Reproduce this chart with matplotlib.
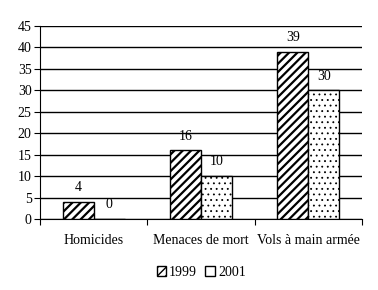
import matplotlib.pyplot as plt
from matplotlib.patches import Patch
import numpy as np

plt.rcParams['font.family'] = ['Liberation Serif', 'DejaVu Serif']

categories = ['Homicides', 'Menaces de mort', 'Vols à main armée']
years = ['1999', '2001']
v1999 = [4, 16, 39]
v2001 = [0, 10, 30]

fig = plt.figure(figsize=(3.78, 2.90), dpi=100)
ax = fig.add_axes([40/378, 1 - 219/290, 322/378, 193/290])

x = np.arange(len(categories))
w = 0.29
with plt.rc_context({'hatch.linewidth': 1.6}):
    b1 = ax.bar(x - w/2, v1999, w, color='white', edgecolor='black', hatch='////', linewidth=1, zorder=3)
    h1 = Patch(facecolor='white', edgecolor='black', hatch='////', linewidth=1)
with plt.rc_context({'hatch.linewidth': 0.6}):
    b2 = ax.bar(x + w/2, v2001, w, color='white', edgecolor='black', hatch='...', linewidth=1, zorder=3)
h2 = Patch(facecolor='white', edgecolor='black', linewidth=1)

for bars, vals in [(b1, v1999), (b2, v2001)]:
    for r, v in zip(bars, vals):
        ax.text(r.get_x() + r.get_width()/2, v + 3.3, str(v), ha='center', va='center', fontsize=10)

ax.set_xlim(-0.5, 2.5)
ax.set_ylim(0, 45)
ax.set_yticks(range(0, 46, 5))
ax.yaxis.grid(True, color='black', linewidth=1)
ax.set_axisbelow(True)
ax.set_xticks([-0.5, 0.5, 1.5, 2.5])
ax.set_xticklabels([])
ax.set_xticks(x, minor=True)
ax.set_xticklabels(categories, minor=True, fontsize=10)
ax.tick_params(axis='x', which='minor', length=0, pad=11)
ax.tick_params(axis='x', which='major', length=4, direction='out')
ax.tick_params(axis='y', length=4, labelsize=10, pad=2)
for s in ['top', 'right']:
    ax.spines[s].set_visible(False)

fig.legend(handles=[h1, h2], labels=years, loc='center', bbox_to_anchor=(0.532, 1 - 272/290),
           ncol=2, frameon=False, fontsize=10, handlelength=0.7, handleheight=0.7,
           handletextpad=0.2, columnspacing=0.6)

fig.savefig('out.png', dpi=100)
